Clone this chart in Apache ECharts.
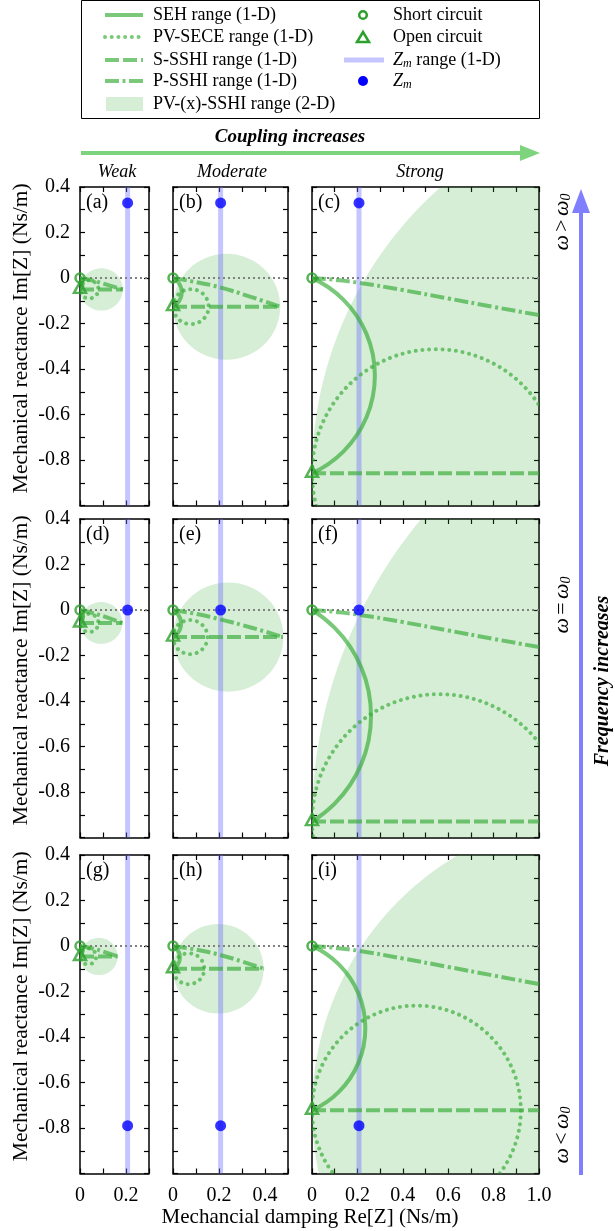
<!DOCTYPE html>
<html><head><meta charset="utf-8">
<script src="https://cdn.jsdelivr.net/npm/echarts/dist/echarts.min.js"></script>
<style>html,body{margin:0;padding:0;background:#fff}#c{width:615px;height:1231px}</style>
</head><body><div id="c"></div>
<script>
// ---------------- DATA ----------------
const panelLabels = ['(a)','(b)','(c)','(d)','(e)','(f)','(g)','(h)','(i)'];
const columnNames = ['Weak','Moderate','Strong'];
const rowNames = ['>','=','<'];
const xMaxByColumn = [0.3, 0.5, 1.0];
const yRange = [-1.0, 0.4];
const tickStep = 0.1;
// short circuit at origin; open circuit Im[Z] per panel
const shortCircuit = [0, 0];
const openCircuitY = [-0.05, -0.126, -0.858, -0.057, -0.119, -0.93, -0.046, -0.10, -0.722];
// Zm point per panel [Re, Im]
const zmPoints = [[0.207,0.33],[0.207,0.33],[0.207,0.33],[0.207,0],[0.207,0],[0.207,0],[0.207,-0.79],[0.207,-0.79],[0.207,-0.79]];
// PV-(x)-SSHI 2-D region, circle [centre Re, centre Im, radius]
const sshiRegion = [[0.093,-0.05,0.093],[0.233,-0.126,0.233],[1.68,-0.858,1.68],
                    [0.092,-0.057,0.092],[0.24,-0.119,0.24],[2.08,-0.93,2.08],
                    [0.082,-0.046,0.082],[0.197,-0.10,0.197],[1.30,-0.722,1.30]];
// PV-SECE range, circle [centre Re, centre Im, radius]
const seceRange = [[0.04,-0.05,0.04],[0.078,-0.126,0.077],[0.545,-0.858,0.545],
                   [0.04,-0.057,0.04],[0.075,-0.119,0.075],[0.56,-0.93,0.56],
                   [0.035,-0.046,0.035],[0.068,-0.10,0.068],[0.46,-0.722,0.46]];
// SEH range, circular arc (circle [centre Re, centre Im, radius], right part shown)
const sehRange = [[-0.02,-0.025,0.032],[-0.033,-0.063,0.071],[-0.194,-0.429,0.471],
                  [-0.022,-0.0285,0.036],[-0.033,-0.06,0.068],[-0.286,-0.465,0.546],
                  [-0.019,-0.023,0.03],[-0.027,-0.05,0.057],[-0.16,-0.361,0.395]];
// S-SSHI range end (Re) at Im = open circuit
const sSshiEndX = [0.186, 0.466, 1.0, 0.184, 0.478, 1.0, 0.164, 0.394, 1.0];
// P-SSHI range curves
const pSshiRange = [
  [[0,0],[0.05,-0.01],[0.1,-0.024],[0.186,-0.05]],
  [[0,0],[0.088,-0.016],[0.204,-0.041],[0.335,-0.082],[0.466,-0.126]],
  [[0,0],[0.1,-0.008],[0.2,-0.02],[0.4,-0.053],[0.6,-0.09],[0.8,-0.127],[1.0,-0.163]],
  [[0,0],[0.05,-0.012],[0.1,-0.027],[0.184,-0.057]],
  [[0,0],[0.1,-0.017],[0.2,-0.04],[0.35,-0.08],[0.478,-0.119]],
  [[0,0],[0.1,-0.008],[0.2,-0.02],[0.4,-0.053],[0.6,-0.09],[0.8,-0.127],[1.0,-0.163]],
  [[0,0],[0.05,-0.01],[0.1,-0.024],[0.164,-0.046]],
  [[0,0],[0.1,-0.016],[0.2,-0.038],[0.3,-0.068],[0.394,-0.10]],
  [[0,0],[0.1,-0.008],[0.2,-0.02],[0.4,-0.055],[0.6,-0.092],[0.8,-0.13],[1.0,-0.167]]
];
const legendLeft = ['SEH range (1-D)','PV-SECE range (1-D)','S-SSHI range (1-D)','P-SSHI range (1-D)','PV-(x)-SSHI range (2-D)'];
const legendRight = ['Short circuit','Open circuit','{i|Z}{s|m} range (1-D)','{i|Z}{s|m}'];

// ---------------- STYLE / LAYOUT ----------------
const FONT = 'Liberation Serif';
const G_LINE = 'rgba(50,170,50,0.65)';
const G_FILL = 'rgba(50,170,50,0.2)';
const G_MARK = '#2ca02c';
const ZM_LINE = 'rgba(110,110,255,0.4)';
const ZM_DOT = '#0000ff';
const DOT_DASH = [0.01, 6.7];
const DASH = [14, 4];
const DASHDOT = [14, 3.5, 3, 3.5];
const colLeft = [80, 173, 312];
const colWidth = [69, 115, 227];
const rowTop = [187, 519, 855];
const rowHeight = 318.5;

const chart = echarts.init(document.getElementById('c'), null, {renderer:'canvas', width:615, height:1231});

function lblX(v){const r=Math.round(v*10); if(r%2!==0) return ''; if(r===0) return '0'; return (r/10).toFixed(1);}
function lblY(v){const r=Math.round(v*10); if(r%2!==0||r<=-10) return ''; if(r===0) return '0'; return (r/10).toFixed(1);}

const grids=[], xAxes=[], yAxes=[], series=[];
function axisCommon(){
  return {type:'value', axisLine:{show:true,onZero:false,lineStyle:{color:'#000',width:1.5}},
    axisTick:{show:true,inside:true,length:5,lineStyle:{color:'#000',width:1.2}},
    splitLine:{show:false}, minorTick:{show:false}};
}
function ellipseSeries(p, d, style, z){
  return {type:'custom', xAxisIndex:2*p, yAxisIndex:2*p, clip:true, silent:true, z:z,
    data:[d], encode:{x:0,y:1},
    renderItem:function(params, api){
      const c = api.coord([api.value(0), api.value(1)]);
      const s = api.size([api.value(2), api.value(2)]);
      return {type:'ellipse', shape:{cx:c[0], cy:c[1], rx:s[0], ry:s[1]}, style:style};
    }};
}
for(let p=0;p<9;p++){
  const r=Math.floor(p/3), c=p%3;
  const xMax = xMaxByColumn[c];
  grids.push({left:colLeft[c], top:rowTop[r], width:colWidth[c], height:rowHeight, containLabel:false, outerBoundsMode:'none'});
  xAxes.push(Object.assign(axisCommon(),{gridIndex:p, position:'bottom', min:0, max:xMax, interval:tickStep,
    axisLabel:{show:r===2, formatter:lblX, fontFamily:FONT, fontSize:20, color:'#000', margin:12, showMinLabel:true, showMaxLabel:true, hideOverlap:false}}));
  xAxes.push(Object.assign(axisCommon(),{gridIndex:p, position:'top', min:0, max:xMax, interval:tickStep, axisLabel:{show:false}}));
  yAxes.push(Object.assign(axisCommon(),{gridIndex:p, position:'left', min:yRange[0], max:yRange[1], interval:tickStep,
    axisLabel:{show:c===0, formatter:lblY, fontFamily:FONT, fontSize:20, color:'#000', margin:10, showMinLabel:true, showMaxLabel:true, hideOverlap:false}}));
  yAxes.push(Object.assign(axisCommon(),{gridIndex:p, position:'right', min:yRange[0], max:yRange[1], interval:tickStep, axisLabel:{show:false}}));

  const xi=2*p, yi=2*p;
  series.push(ellipseSeries(p, sshiRegion[p], {fill:G_FILL, stroke:null}, 1));
  series.push({type:'line', xAxisIndex:xi, yAxisIndex:yi, data:[[zmPoints[p][0],yRange[0]],[zmPoints[p][0],yRange[1]]],
    showSymbol:false, silent:true, z:2, lineStyle:{color:ZM_LINE,width:5}});
  series.push({type:'line', xAxisIndex:xi, yAxisIndex:yi, data:[[shortCircuit[0],shortCircuit[1]],[xMax,0]],
    showSymbol:false, silent:true, z:3, lineStyle:{color:'#808080',width:2,type:[2,3]}});
  series.push(ellipseSeries(p, sehRange[p], {fill:'none', stroke:G_LINE, lineWidth:4}, 4));
  series.push(ellipseSeries(p, seceRange[p], {fill:'none', stroke:G_LINE, lineWidth:4, lineDash:DOT_DASH, lineCap:'round'}, 4));
  series.push({type:'line', xAxisIndex:xi, yAxisIndex:yi, data:[[0,openCircuitY[p]],[sSshiEndX[p],openCircuitY[p]]],
    showSymbol:false, silent:true, z:4, lineStyle:{color:G_LINE,width:4,type:DASH}});
  series.push({type:'line', xAxisIndex:xi, yAxisIndex:yi, data:pSshiRange[p], smooth:true,
    showSymbol:false, silent:true, z:4, lineStyle:{color:G_LINE,width:4,type:DASHDOT}});
  series.push({type:'scatter', xAxisIndex:xi, yAxisIndex:yi, data:[shortCircuit], symbol:'circle', symbolSize:9, clip:false, silent:true, z:6,
    itemStyle:{color:'rgba(255,255,255,0)', borderColor:G_MARK, borderWidth:2.5}});
  series.push({type:'scatter', xAxisIndex:xi, yAxisIndex:yi, data:[[0,openCircuitY[p]]], symbol:'triangle', symbolSize:[12,11], symbolOffset:[0,-2], clip:false, silent:true, z:6,
    itemStyle:{color:'rgba(255,255,255,0)', borderColor:G_MARK, borderWidth:2.5}});
  series.push({type:'scatter', xAxisIndex:xi, yAxisIndex:yi, data:[zmPoints[p]], symbol:'circle', symbolSize:11, clip:false, silent:true, z:7,
    itemStyle:{color:ZM_DOT}});
}

// ---------------- GRAPHIC ----------------
const gr=[];
const rich = {i:{fontFamily:FONT,fontSize:18,fontStyle:'italic',fill:'#000'}, s:{fontFamily:FONT,fontSize:12,fontStyle:'italic',fill:'#000',padding:[8,0,0,0]}};
gr.push({type:'rect', shape:{x:81.5,y:0.5,width:458,height:118}, style:{fill:'#fff',stroke:'#000',lineWidth:1}, z:0});
const lrows=[15,37,60,81,104];
const lStyles=[{stroke:G_LINE,lineWidth:4},{stroke:G_LINE,lineWidth:4,lineDash:DOT_DASH,lineCap:'round'},{stroke:G_LINE,lineWidth:4,lineDash:DASH},{stroke:G_LINE,lineWidth:4,lineDash:DASHDOT}];
for(let k=0;k<4;k++) gr.push({type:'line', shape:{x1:105,y1:lrows[k],x2:143,y2:lrows[k]}, style:lStyles[k], z:1});
gr.push({type:'rect', shape:{x:106,y:97,width:37,height:14}, style:{fill:G_FILL}, z:1});
for(let k=0;k<5;k++) gr.push({type:'text', x:153, y:lrows[k], style:{text:legendLeft[k], font:'18px "'+FONT+'"', fill:'#000', textVerticalAlign:'middle'}, z:1});
gr.push({type:'circle', shape:{cx:363,cy:lrows[0],r:3.8}, style:{fill:'none',stroke:G_MARK,lineWidth:2.5}, z:1});
gr.push({type:'polygon', shape:{points:[[357,lrows[1]+5],[369,lrows[1]+5],[363,lrows[1]-5]]}, style:{fill:'none',stroke:G_MARK,lineWidth:2.5}, z:1});
gr.push({type:'line', shape:{x1:344,y1:lrows[2],x2:384,y2:lrows[2]}, style:{stroke:ZM_LINE,lineWidth:5}, z:1});
gr.push({type:'circle', shape:{cx:363,cy:lrows[3],r:5}, style:{fill:ZM_DOT}, z:1});
for(let k=0;k<4;k++) gr.push({type:'text', x:393, y:lrows[k], style:{text:legendRight[k], font:'18px "'+FONT+'"', fill:'#000', textVerticalAlign:'middle', rich:rich}, z:1});

gr.push({type:'line', shape:{x1:81,y1:153,x2:524,y2:153}, style:{stroke:'#7dd47d',lineWidth:4}});
gr.push({type:'polygon', shape:{points:[[520,145],[540,153],[520,161]]}, style:{fill:'#7dd47d'}});
gr.push({type:'text', x:290, y:137, style:{text:'Coupling increases', font:'italic bold 19px "'+FONT+'"', fill:'#000', textAlign:'center', textVerticalAlign:'middle'}});
const colCenters=[117,232,420];
for(let c=0;c<3;c++) gr.push({type:'text', x:colCenters[c], y:172, style:{text:columnNames[c], font:'italic 18px "'+FONT+'"', fill:'#000', textAlign:'center', textVerticalAlign:'middle'}});
gr.push({type:'line', shape:{x1:581,y1:1175,x2:581,y2:205}, style:{stroke:'#8080ff',lineWidth:4}});
gr.push({type:'polygon', shape:{points:[[572,213],[581,189],[590,213]]}, style:{fill:'#8080ff'}});
gr.push({type:'text', x:603, y:681, rotation:Math.PI/2, style:{text:'Frequency increases', font:'italic bold 20px "'+FONT+'"', fill:'#000', textAlign:'center', textVerticalAlign:'middle'}});
const omegaY=[222,605,1135];
const orich={i:{fontFamily:FONT,fontSize:22,fontStyle:'italic',fill:'#000'}, n:{fontFamily:FONT,fontSize:22,fill:'#000'}, s:{fontFamily:FONT,fontSize:14,fontStyle:'italic',fill:'#000',padding:[9,0,0,0]}};
for(let r=0;r<3;r++) gr.push({type:'text', x:562, y:omegaY[r], rotation:Math.PI/2, style:{text:'{i|ω} {n|'+rowNames[r]+'} {i|ω}{s|0}', rich:orich, textAlign:'center', textVerticalAlign:'middle'}});
for(let p=0;p<9;p++){const r=Math.floor(p/3), c=p%3;
  gr.push({type:'text', x:colLeft[c]+6, y:rowTop[r]+16, style:{text:panelLabels[p], font:'20px "'+FONT+'"', fill:'#000', textVerticalAlign:'middle'}, z:10});}
gr.push({type:'text', x:310, y:1217, style:{text:'Mechancial damping Re[Z] (Ns/m)', font:'21px "'+FONT+'"', fill:'#000', textAlign:'center', textVerticalAlign:'middle'}});
for(let r=0;r<3;r++) gr.push({type:'text', x:21, y:rowTop[r]+rowHeight/2-8, rotation:Math.PI/2, style:{text:'Mechanical reactance Im[Z] (Ns/m)', font:'21.5px "'+FONT+'"', fill:'#000', textAlign:'center', textVerticalAlign:'middle'}});

chart.setOption({animation:false, backgroundColor:'#fff', grid:grids, xAxis:xAxes, yAxis:yAxes, series:series, graphic:{elements:gr}});
</script></body></html>
